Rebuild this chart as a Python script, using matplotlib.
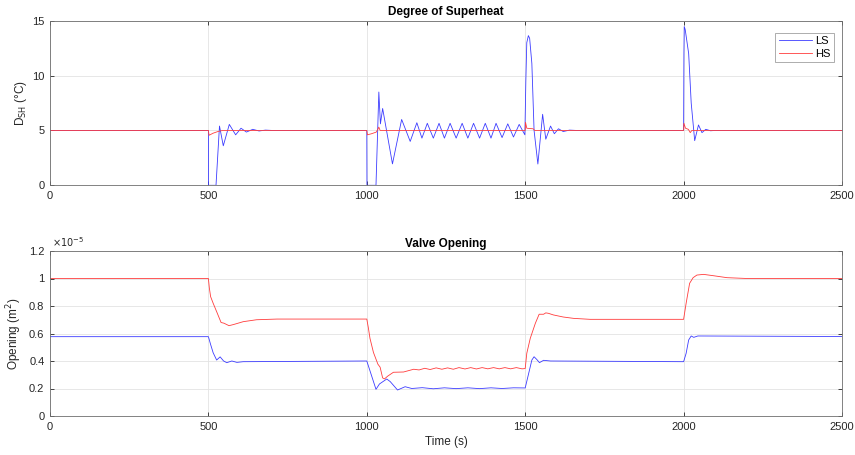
import numpy as np
import matplotlib
matplotlib.use("Agg")
import matplotlib.pyplot as plt
from matplotlib.ticker import FuncFormatter

plt.rcParams['font.family'] = ['Liberation Sans', 'DejaVu Sans']

# Degree of superheat (deg C)
ls_sh_t = [0, 500, 500.5, 524, 535, 547, 566, 586, 603, 620, 640, 660, 680, 700,
           1000, 1000.5, 1029, 1038, 1043, 1050, 1081, 1110, 1137, 1158, 1174, 1191,
           1210, 1228, 1245, 1263, 1282, 1301, 1319, 1337, 1356, 1374, 1392, 1408,
           1427, 1445, 1463, 1481, 1499, 1502, 1505, 1510, 1514, 1521, 1528, 1540,
           1555, 1565, 1580, 1592, 1605, 1620, 1640, 1660,
           2000, 2001, 2002, 2005, 2016, 2024, 2035, 2047, 2058, 2070, 2085, 2100, 2500]
ls_sh_v = [5, 5, 0, 0, 5.4, 3.6, 5.55, 4.6, 5.2, 4.85, 5.1, 4.95, 5.03, 5.0,
           5.0, 0, 0, 8.5, 5.6, 7.0, 1.95, 6.0, 4.0, 5.7, 4.3, 5.65,
           4.3, 5.65, 4.3, 5.65, 4.3, 5.65, 4.3, 5.65, 4.3, 5.65, 4.3, 5.65,
           4.35, 5.6, 4.4, 5.55, 4.6, 9.5, 13.0, 13.64, 13.4, 11.1, 5.0, 1.94,
           6.47, 4.2, 5.4, 4.7, 5.15, 4.9, 5.03, 5.0,
           5.0, 12.0, 14.46, 14.2, 12.0, 7.5, 4.07, 5.5, 4.8, 5.1, 4.97, 5.0, 5.0]

hs_sh_t = [0, 500, 502, 515, 530, 545, 1000, 1002, 1015, 1030, 1038, 1042,
           1500, 1501, 1505, 1525, 1530, 2000, 2001, 2006, 2015, 2021, 2026, 2500]
hs_sh_v = [5, 5, 4.56, 4.75, 4.9, 5.0, 5.0, 4.6, 4.7, 4.85, 5.3, 5.0,
           5.0, 5.74, 5.2, 5.15, 5.0, 5.0, 5.65, 5.2, 5.1, 4.8, 5.0, 5.0]

# Valve opening (x 1e-5 m^2)
ls_op_t = [0, 500, 507, 515, 526, 537, 548, 558, 574, 590, 610, 1000, 1029, 1040,
           1063, 1074, 1097, 1121, 1142, 1175, 1210, 1245, 1282, 1319, 1356, 1392,
           1427, 1463, 1500, 1511, 1521, 1528, 1537, 1545, 1558, 1580,
           2000, 2008, 2016, 2024, 2032, 2045, 2500]
ls_op_v = [0.577, 0.577, 0.52, 0.46, 0.407, 0.43, 0.40, 0.388, 0.40, 0.39, 0.395,
           0.40, 0.194, 0.233, 0.269, 0.25, 0.189, 0.213, 0.20, 0.206, 0.198, 0.205,
           0.199, 0.205, 0.199, 0.205, 0.20, 0.205, 0.204, 0.31, 0.407, 0.431, 0.41,
           0.388, 0.405, 0.40, 0.395, 0.456, 0.553, 0.582, 0.572, 0.582, 0.578]

hs_op_t = [0, 500, 503, 507, 515, 526, 540, 549, 565, 579, 610, 652, 717, 1000,
           1005, 1010, 1021, 1035, 1042, 1050, 1056, 1066, 1084, 1116, 1132, 1148,
           1165, 1183, 1200, 1219, 1237, 1255, 1273, 1291, 1310, 1328, 1346, 1364,
           1382, 1400, 1418, 1436, 1454, 1472, 1490, 1500, 1505, 1516, 1532, 1544,
           1558, 1565, 1573, 1589, 1620, 1653, 1705, 2000, 2008, 2019, 2030, 2042,
           2063, 2095, 2137, 2200, 2500]
hs_op_v = [1.0, 1.0, 0.93, 0.868, 0.82, 0.759, 0.68, 0.675, 0.657, 0.665, 0.686,
           0.70, 0.705, 0.705, 0.64, 0.565, 0.462, 0.377, 0.355, 0.277, 0.27, 0.29,
           0.318, 0.32, 0.33, 0.34, 0.335, 0.347, 0.338, 0.35, 0.34, 0.35, 0.34,
           0.352, 0.342, 0.352, 0.342, 0.352, 0.343, 0.352, 0.343, 0.352, 0.343,
           0.352, 0.343, 0.345, 0.456, 0.565, 0.674, 0.74, 0.74, 0.75, 0.747, 0.735,
           0.72, 0.71, 0.703, 0.703, 0.82, 0.965, 1.006, 1.025, 1.03, 1.02, 1.006,
           1.0, 1.0]

x_ticks = [0, 500, 1000, 1500, 2000, 2500]
blue = '#3c3cff'
red = '#ff3c3c'


def style_axes(ax):
    for s in ax.spines.values():
        s.set_color('#6e6e6e')
        s.set_linewidth(0.6)
    ax.tick_params(direction='in', length=3, width=0.6, colors='#262626',
                   labelsize=8, top=True, right=True, pad=4)
    ax.grid(True, color='#e3e3e3', linewidth=0.6)
    ax.set_axisbelow(True)
    ax.set_xlim(0, 2500)
    ax.set_xticks(x_ticks)


fig = plt.figure(figsize=(8.55, 4.55), dpi=100)
ax1 = fig.add_axes([50/855, 1-185.3/455, 792/855, (185.3-20.7)/455])
ax2 = fig.add_axes([50/855, 1-416/455, 792/855, (416-251)/455])

# top: superheat
ax1.plot(ls_sh_t, ls_sh_v, color=blue, lw=0.6, label='LS')
ax1.plot(hs_sh_t, hs_sh_v, color=red, lw=0.6, label='HS')
style_axes(ax1)
ax1.set_ylim(0, 15)
ax1.set_yticks([0, 5, 10, 15])
ax1.set_title('Degree of Superheat', fontsize=8.5, fontweight='bold', pad=4)
ax1.set_ylabel('D$_{\\mathrm{SH}}$ (°C)', fontsize=8.5, color='#262626')
ax1.yaxis.set_label_coords(-0.027, 0.5)
leg = ax1.legend(loc='upper right', bbox_to_anchor=(0.99, 0.925), borderaxespad=0,
                 fontsize=8, fancybox=False, framealpha=1, handlelength=3,
                 handletextpad=0.3, borderpad=0.3, labelspacing=0.2)
leg.get_frame().set_edgecolor('#a0a0a0')
leg.get_frame().set_linewidth(0.6)

# bottom: valve opening
ax2.plot(ls_op_t, ls_op_v, color=blue, lw=0.6)
ax2.plot(hs_op_t, hs_op_v, color=red, lw=0.6)
style_axes(ax2)
ax2.set_ylim(0, 1.2)
ax2.set_yticks(np.arange(0, 1.21, 0.2))
ax2.yaxis.set_major_formatter(FuncFormatter(lambda v, p: '%g' % round(v, 2)))
ax2.text(0.003, 1.01, '$\\times10^{-5}$', transform=ax2.transAxes, fontsize=7,
         color='#262626', ha='left', va='bottom')
ax2.set_title('Valve Opening', fontsize=8.5, fontweight='bold', pad=3)
ax2.set_ylabel('Opening (m$^2$)', fontsize=8.5, color='#262626')
ax2.yaxis.set_label_coords(-0.033, 0.5)
ax2.set_xlabel('Time (s)', fontsize=8.5, color='#262626', labelpad=3)

fig.savefig('out.png', dpi=100)
